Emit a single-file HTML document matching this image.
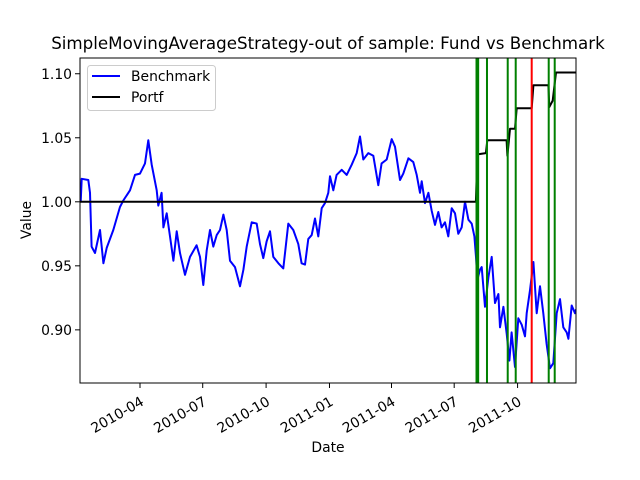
<!DOCTYPE html>
<html><head><meta charset="utf-8"><style>
html,body{margin:0;padding:0;background:#fff}
svg{display:block;font-family:"DejaVu Sans","Liberation Sans",sans-serif}
</style></head><body>
<svg id="chart" width="640" height="480" viewBox="0 0 640 480" xmlns="http://www.w3.org/2000/svg">
<rect x="0" y="0" width="640" height="480" fill="#fff"/>
<text x="328" y="49" font-size="16.7" text-anchor="middle">SimpleMovingAverageStrategy-out of sample: Fund vs Benchmark</text>
<g id="plot"></g>
<text x="328" y="452" font-size="13.9" text-anchor="middle">Date</text>
<text x="31" y="220" font-size="13.9" text-anchor="middle" transform="rotate(-90 31 220)">Value</text>
</svg>
<script>
// days since 2010-01-01
const benchDays=[3.9,5.3,15.0,17.4,19.8,24.7,31.9,36.8,41.6,51.3,61.0,65.8,75.5,82.7,90.0,97.3,102.1,106.9,114.2,116.6,121.4,123.9,128.7,133.5,138.4,143.2,148.1,155.3,162.6,172.2,177.1,181.9,186.8,191.6,196.4,201.3,206.1,211.0,215.8,220.6,227.9,235.1,240.0,244.8,252.1,259.3,264.2,269.0,273.8,278.7,283.5,290.8,298.0,305.3,312.5,319.8,324.6,329.5,334.3,339.2,344.0,348.8,353.7,358.5,363.3,365.8,370.6,375.4,382.7,390.0,397.2,404.5,409.3,414.1,421.4,428.6,435.9,440.7,448.0,455.3,460.1,467.4,472.2,479.5,486.7,491.6,496.4,498.8,503.7,508.5,513.3,518.2,523.0,527.8,532.7,537.5,542.4,547.2,552.0,556.9,561.7,566.6,571.4,575.3,577.7,579.6,583.5,585.9,590.7,595.6,600.4,605.3,610.1,612.5,617.4,622.2,626.1,629.4,634.3,639.1,644.0,648.8,651.2,656.1,660.9,665.7,670.6,675.4,680.2,685.1,689.9,694.8,699.6,704.4,709.3,711.7,716.5,721.4,722.8];
const benchVals=[1.000,1.018,1.017,1.007,0.965,0.960,0.978,0.952,0.964,0.978,0.996,1.001,1.009,1.021,1.022,1.030,1.048,1.029,1.009,0.997,1.007,0.980,0.991,0.973,0.954,0.977,0.960,0.943,0.957,0.966,0.957,0.935,0.962,0.978,0.965,0.974,0.978,0.990,0.978,0.954,0.949,0.934,0.947,0.965,0.984,0.983,0.967,0.956,0.969,0.977,0.957,0.952,0.948,0.983,0.978,0.967,0.952,0.951,0.971,0.974,0.987,0.973,0.995,0.999,1.007,1.020,1.009,1.021,1.025,1.021,1.029,1.038,1.051,1.033,1.038,1.036,1.013,1.030,1.033,1.049,1.043,1.017,1.022,1.034,1.031,1.021,1.007,1.016,0.999,1.007,0.993,0.982,0.992,0.980,0.984,0.973,0.995,0.991,0.975,0.980,1.000,0.986,0.983,0.973,0.957,0.939,0.947,0.949,0.918,0.941,0.957,0.921,0.928,0.902,0.918,0.897,0.876,0.898,0.871,0.909,0.904,0.895,0.913,0.931,0.953,0.913,0.934,0.913,0.889,0.870,0.874,0.913,0.924,0.902,0.898,0.893,0.919,0.913,0.916];
const portfDays=[2.9,577.5,579.5,592,594,622,623.2,627,634.3,636.7,658.5,660.9,682.7,684.1,689,693.8,722.8];
const portfVals=[1.000,1.000,1.037,1.038,1.048,1.048,1.036,1.057,1.057,1.073,1.073,1.091,1.091,1.074,1.079,1.101,1.101];
const buyDays=[578.4,580.8,593.6,623.7,635.3,683.2,691.9];
const sellDays=[658.5];
const yTicks=[0.90,0.95,1.00,1.05,1.10];
const yTickLabels=["0.90","0.95","1.00","1.05","1.10"];
const xTickDays=[90,181,273,365,455,546,638];
const xTickLabels=["2010-04","2010-07","2010-10","2011-01","2011-04","2011-07","2011-10"];

const L=80,R=576,T=58,B=383;
const X0=2.9,X1=722.8,Y0=0.8585,Y1=1.1123;
const sx=d=>L+(d-X0)/(X1-X0)*(R-L);
const sy=v=>B-(v-Y0)/(Y1-Y0)*(B-T);
const NS="http://www.w3.org/2000/svg";
const plot=document.getElementById('plot');
function mk(tag,attrs,parent){const e=document.createElementNS(NS,tag);for(const k in attrs)e.setAttribute(k,attrs[k]);(parent||plot).appendChild(e);return e;}

const clip=mk('clipPath',{id:'clipArea'});
mk('rect',{x:L,y:T,width:R-L,height:B-T},clip);
const g=mk('g',{'clip-path':'url(#clipArea)'});



const bp=mk('polyline',{points:benchDays.map((d,i)=>sx(d).toFixed(1)+','+sy(benchVals[i]).toFixed(1)).join(' '),fill:'none',stroke:'#0000ff','stroke-width':2,'stroke-linejoin':'round'},g);


const pp=mk('polyline',{points:portfDays.map((d,i)=>sx(d).toFixed(1)+','+sy(portfVals[i]).toFixed(1)).join(' '),fill:'none',stroke:'#000','stroke-width':2,'stroke-linejoin':'round'},g);



buyDays.forEach(d=>{const l=mk('line',{x1:sx(d),x2:sx(d),y1:T,y2:B,stroke:'#008000','stroke-width':2},g);

});
sellDays.forEach(d=>{const l=mk('line',{x1:sx(d),x2:sx(d),y1:T,y2:B,stroke:'#ff0000','stroke-width':2},g);

});

const frame=mk('rect',{x:L,y:T,width:R-L,height:B-T,fill:'none',stroke:'#000','stroke-width':1});



yTicks.forEach((v,i)=>{const y=sy(v);
const t=mk('line',{x1:L-5,x2:L,y1:y,y2:y,stroke:'#000','stroke-width':1});


const tx=mk('text',{x:L-8,y:y+5,'font-size':13.9,'text-anchor':'end'});tx.textContent=yTickLabels[i];

});
xTickDays.forEach((d,i)=>{const x=sx(d);
const t=mk('line',{x1:x,x2:x,y1:B,y2:B+5,stroke:'#000','stroke-width':1});


const ax=x,ay=B+13;
const tx=mk('text',{x:ax,y:ay,'font-size':13.9,'text-anchor':'end','dominant-baseline':'hanging',transform:`rotate(-30 ${ax} ${ay})`});tx.textContent=xTickLabels[i];

});

const lg=mk('g',{});


mk('rect',{x:87.5,y:65.5,width:128,height:45,rx:3,fill:'#fff','fill-opacity':0.8,stroke:'#ccc'},lg);
const e1=mk('line',{x1:92,x2:120,y1:76,y2:76,stroke:'#0000ff','stroke-width':2},lg);


const t1=mk('text',{x:131,y:81,'font-size':13.9},lg);t1.textContent='Benchmark';


const e2=mk('line',{x1:92,x2:120,y1:97,y2:97,stroke:'#000','stroke-width':2},lg);


const t2=mk('text',{x:131,y:102,'font-size':13.9},lg);t2.textContent='Portf';


</script>
</body></html>
